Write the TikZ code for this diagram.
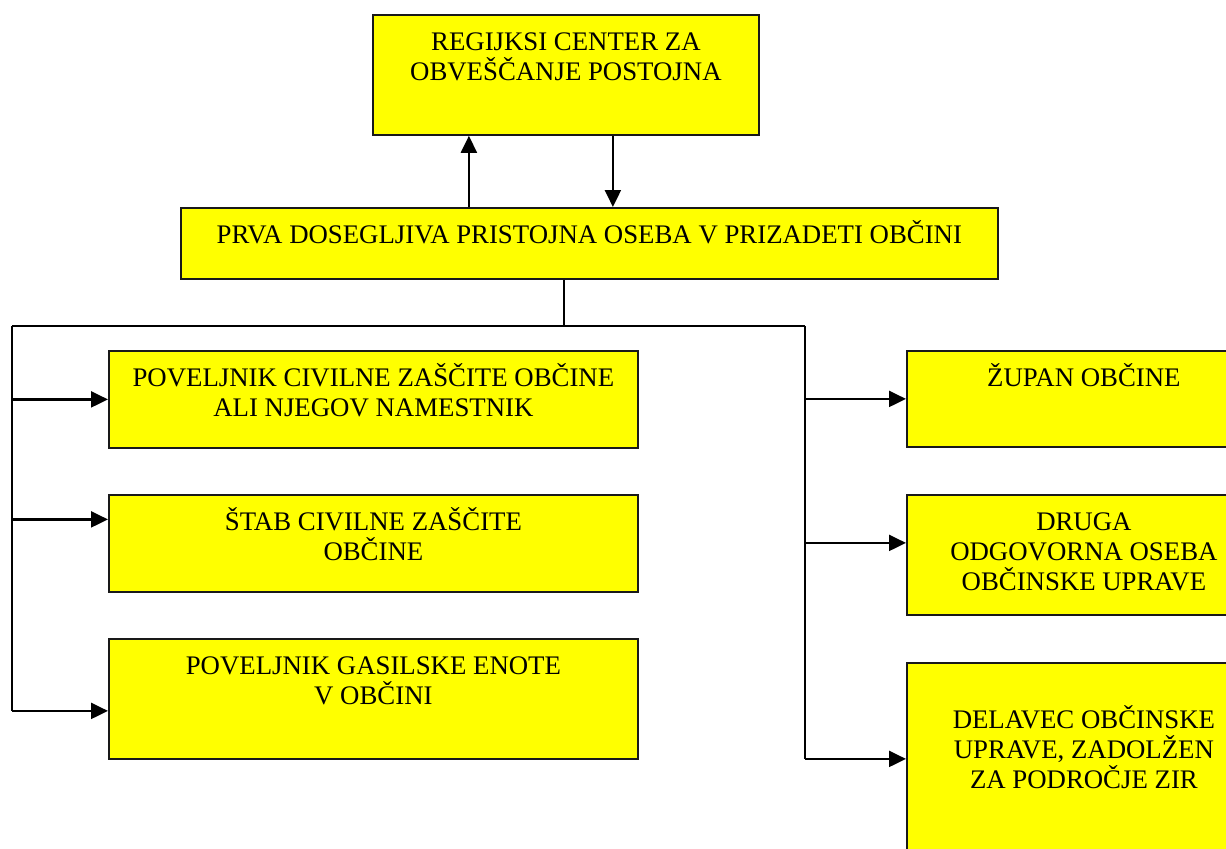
\documentclass[tikz,border=0pt]{standalone}
\usepackage{fontspec}
\setmainfont{Liberation Serif}
\usetikzlibrary{arrows.meta}
\definecolor{rumena}{RGB}{255,255,0}
\newcommand{\boxtext}[3]{\parbox[c][#2][t]{#1}{\centering\rule{0pt}{18pt}#3}}

\begin{document}
\begin{tikzpicture}[x=0.5pt, y=-0.5pt,
    cell/.style={draw=black!90, line width=0.9pt, fill=rumena, inner sep=0pt, anchor=north west,
      font=\fontsize{13.4pt}{15pt}\selectfont},
    bus/.style={line width=0.7pt},
    arr/.style={line width=1.1pt, -{Triangle[length=8.5pt,width=8pt]}}]
  \clip (0,0) rectangle (1226,848);

  \node[cell] (regija) at (372,14) {\boxtext{193pt}{60pt}{REGIJKSI CENTER ZA\\OBVEŠČANJE POSTOJNA}};
  \node[cell] (prva) at (180,207) {\boxtext{408.5pt}{35.5pt}{PRVA DOSEGLJIVA PRISTOJNA OSEBA V PRIZADETI OBČINI}};

  \node[cell] (poveljnik) at (108,350) {\boxtext{264.5pt}{48.5pt}{POVELJNIK CIVILNE ZAŠČITE OBČINE\\ALI NJEGOV NAMESTNIK}};
  \node[cell] (stab) at (108,494) {\boxtext{264.5pt}{48.5pt}{ŠTAB CIVILNE ZAŠČITE\\OBČINE}};
  \node[cell] (gasilci) at (108,638) {\boxtext{264.5pt}{60pt}{POVELJNIK GASILSKE ENOTE\\V OBČINI}};

  \node[cell] (zupan) at (906,350) {\boxtext{177pt}{48pt}{ŽUPAN OBČINE}};
  \node[cell] (druga) at (906,494) {\boxtext{177pt}{60pt}{DRUGA\\ODGOVORNA OSEBA\\OBČINSKE UPRAVE}};
  \node[cell] (delavec) at (906,662) {\boxtext{177pt}{100pt}{\\DELAVEC OBČINSKE\\UPRAVE, ZADOLŽEN\\ZA PODROČJE ZIR}};

  % obvescanje gor in dol
  \draw[arr] ([xshift=23.5pt]regija.south) -- ([xshift=23.5pt]regija.south |- prva.north);
  \draw[arr] ([xshift=-48.5pt]regija.south |- prva.north) -- ([xshift=-48.5pt]regija.south);

  % razvejitev
  \coordinate (razcep) at (564,326);
  \coordinate (levo) at (12,326);
  \coordinate (desno) at (805,326);
  \draw[bus] (prva.south -| razcep) -- (razcep);
  \draw[bus] (levo) -- (desno);
  \draw[bus] (levo) -- ([yshift=-6pt]gasilci.west -| levo);
  \draw[bus] (desno) -- ([yshift=2pt]delavec.west -| desno);

  \draw[arr] (poveljnik.west -| levo) -- (poveljnik.west);
  \draw[arr] ([yshift=12pt]stab.west -| levo) -- ([yshift=12pt]stab.west);
  \draw[arr] ([yshift=-6pt]gasilci.west -| levo) -- ([yshift=-6pt]gasilci.west);

  \draw[arr] (zupan.west -| desno) -- (zupan.west);
  \draw[arr] ([yshift=6pt]druga.west -| desno) -- ([yshift=6pt]druga.west);
  \draw[arr] ([yshift=2pt]delavec.west -| desno) -- ([yshift=2pt]delavec.west);
\end{tikzpicture}
\end{document}
